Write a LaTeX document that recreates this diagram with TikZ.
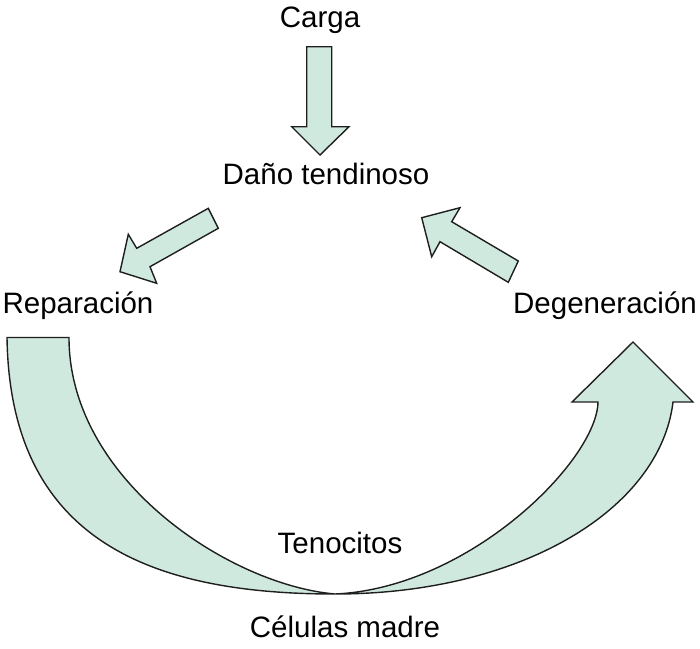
\documentclass[tikz,border=0pt]{standalone}
\usepackage{fontspec}
\setmainfont{Liberation Sans}
\definecolor{mint}{HTML}{D0E9DF}
\definecolor{edge}{HTML}{1E1E1E}
\tikzset{
  lbl/.style={anchor=base, inner sep=0pt, font=\fontsize{29.5}{34}\selectfont, text=black},
  blockarrow/.style={fill=mint, draw=edge, line width=1.4pt, line join=miter}
}
\begin{document}
\begin{tikzpicture}[x=1pt,y=-1pt]
\useasboundingbox (0,0) rectangle (700,648);
% labels
\node[lbl] (carga) at (320,27) {Carga};
\node[lbl] (dano) at (326,184) {Daño tendinoso};
\node[lbl] (rep) at (78,313) {Reparación};
\node[lbl] (deg) at (605,313) {Degeneración};
\node[lbl] (teno) at (340,553) {Tenocitos};
\node[lbl] (cel) at (345,637) {Células madre};
% top arrow
\draw[blockarrow] (306.7,46.7) -- (331.7,46.7) -- (331.7,126.7) -- (349,126.7)
  -- (320,155) -- (291.7,126.7) -- (306.7,126.7) -- cycle;
% left arrow
\draw[blockarrow] (208.3,208.3) -- (218.3,228.3) -- (150,266.7) -- (156.7,283.3)
  -- (120,271.7) -- (128.3,234.3) -- (136.7,248.3) -- cycle;
% right arrow
\draw[blockarrow] (518.3,261) -- (508.3,282.3) -- (440,241.7) -- (431.7,256.7)
  -- (421.7,217.7) -- (460,207.7) -- (451.7,221.7) -- cycle;
% big curved arrow
\draw[blockarrow] (7,337.5) .. controls (10,540) and (150,594) .. (335,594)
  .. controls (520,594) and (660,510) .. (673,402)
  -- (693,402) -- (633,342) -- (572,402) -- (598,402)
  .. controls (597,460) and (470,588) .. (335,594)
  .. controls (230,585) and (69,480) .. (69,337.5) -- cycle;
\end{tikzpicture}
\end{document}
